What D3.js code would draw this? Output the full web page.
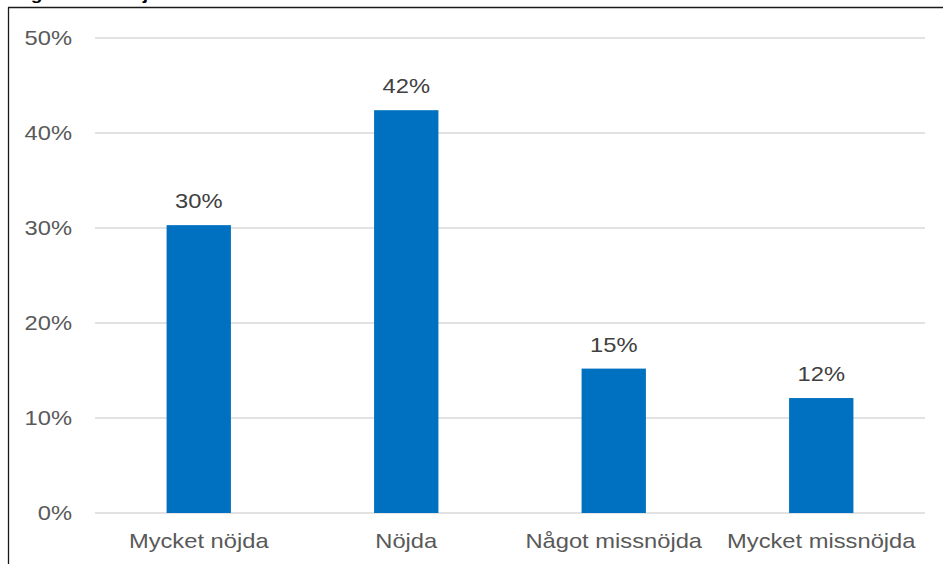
<!DOCTYPE html>
<html>
<head>
<meta charset="utf-8">
<script src="https://cdn.jsdelivr.net/npm/d3@7/dist/d3.min.js"></script>
<style>
  html, body { margin: 0; padding: 0; background: #fff; }
  svg { display: block; }
  text { font-family: "Liberation Sans", Arial, sans-serif; }
</style>
</head>
<body>
<svg id="chart" width="943" height="564"></svg>
<script>
const titleText = "Fråga 4: Hur nöjd är du?";
const categories = ["Mycket nöjda", "Nöjda", "Något missnöjda", "Mycket missnöjda"];
const values = [30.3, 42.4, 15.2, 12.1];
const yTicks = [0, 10, 20, 30, 40, 50];

const W = 943, H = 564;
const SX = 1.13; // horizontal stretch of the text in the reference
const svg = d3.select("#chart");

const x = d3.scaleBand().domain(categories).range([95, 925]).paddingInner(0.69).paddingOuter(0.345);
const y = d3.scaleLinear().domain([0, 50]).range([513, 38]);

// frame (cropped)
svg.append("line").attr("x1", 8.5).attr("x2", 8.5).attr("y1", 7.5).attr("y2", H).attr("stroke", "#1a1a1a").attr("stroke-width", 1.3);
svg.append("line").attr("x1", 8).attr("x2", W).attr("y1", 7.5).attr("y2", 7.5).attr("stroke", "#1a1a1a").attr("stroke-width", 1.3);

// title (mostly cut off at the top)
svg.append("text").attr("transform", `translate(1,0) scale(${SX},1)`)
  .attr("font-size", 17).attr("font-weight", "bold").attr("fill", "#000").text(titleText);

// gridlines
svg.append("g").selectAll("line").data(yTicks).join("line")
  .attr("x1", 95).attr("x2", 925)
  .attr("y1", d => y(d)).attr("y2", d => y(d))
  .attr("stroke", "#d9d9d9").attr("stroke-width", 1.5);

// y axis labels
svg.append("g").selectAll("text").data(yTicks).join("text")
  .attr("transform", d => `translate(72,${y(d) + 7}) scale(${SX},1)`)
  .attr("text-anchor", "end").attr("font-size", 21).attr("fill", "#595959")
  .text(d => d + "%");

// bars
svg.append("g").selectAll("rect").data(values).join("rect")
  .attr("x", (d, i) => x(categories[i]))
  .attr("width", x.bandwidth())
  .attr("y", d => y(d))
  .attr("height", d => y(0) - y(d))
  .attr("fill", "#0070c0");

// value labels
svg.append("g").selectAll("text").data(values).join("text")
  .attr("transform", (d, i) => `translate(${x(categories[i]) + x.bandwidth() / 2},${y(d) - 17}) scale(${SX},1)`)
  .attr("text-anchor", "middle").attr("font-size", 21).attr("fill", "#404040")
  .text(d => Math.round(d) + "%");

// category labels
svg.append("g").selectAll("text").data(categories).join("text")
  .attr("transform", d => `translate(${x(d) + x.bandwidth() / 2},548) scale(${SX},1)`)
  .attr("text-anchor", "middle").attr("font-size", 21).attr("fill", "#595959")
  .text(d => d);
</script>
</body>
</html>
